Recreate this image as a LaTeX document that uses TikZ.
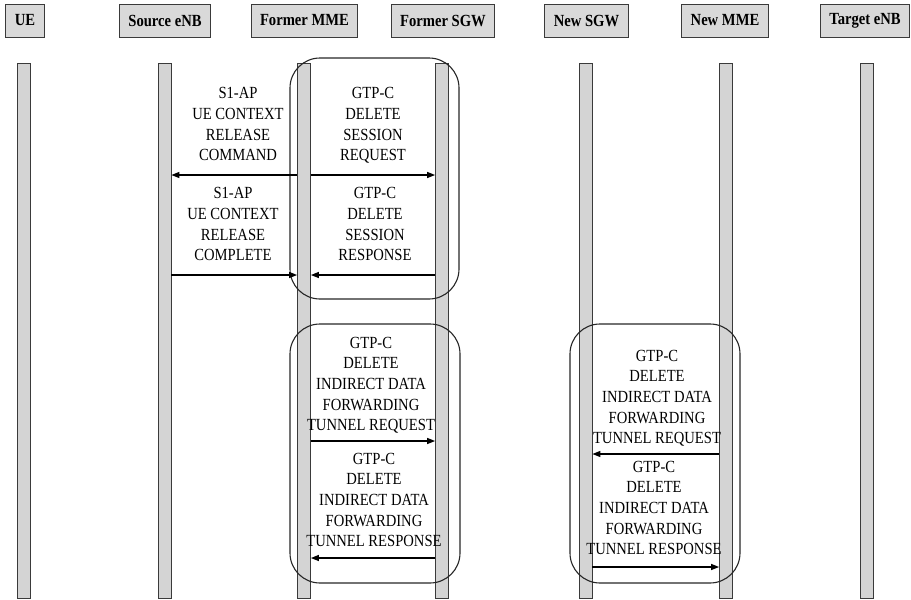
\documentclass[tikz,border=0pt]{standalone}
\usepackage{fontspec}
\setmainfont{Liberation Serif}[FakeStretch=0.86]
\usetikzlibrary{arrows.meta}
\definecolor{barfill}{HTML}{D4D4D4}
\definecolor{hdrfill}{HTML}{D9D9D9}
\definecolor{edge}{HTML}{3A3A3A}
\tikzset{
  hdr/.style={draw=edge, fill=hdrfill, line width=0.9pt, minimum height=33pt,
    inner xsep=9pt, inner ysep=0pt, font=\fontsize{17}{20}\selectfont\bfseries},
  lifeline/.style={draw=edge, fill=barfill, line width=0.8pt, minimum width=13pt,
    minimum height=535pt, inner sep=0pt},
  msg/.style={line width=1.3pt, -{Triangle[length=8pt,width=6pt]}},
  lbl/.style={align=center, inner sep=0pt, anchor=south, text depth=0pt,
    font=\fontsize{17}{20.7}\selectfont},
  group/.style={draw=black!85, line width=1.1pt, rounded corners=30pt}
}
\begin{document}
\begin{tikzpicture}[x=1pt, y=-1pt]
\useasboundingbox (0,0) rectangle (911,600);

% entity headers
\node[hdr] (hUE)   at (25,20.5)    {UE};
\node[hdr] (hSRC)  at (165,20.5)   {Source eNB};
\node[hdr] (hFMME) at (304.5,20.5) {Former MME};
\node[hdr] (hFSGW) at (443,20.5)   {Former SGW};
\node[hdr] (hNSGW) at (586.5,20.5) {New SGW};
\node[hdr] (hNMME) at (725,20.5)   {New MME};
\node[hdr] (hTENB) at (865,20.5)   {Target eNB};

% lifelines
\node[lifeline] (ue)   at (24,330.5)    {};
\node[lifeline] (src)  at (164.5,330.5) {};
\node[lifeline] (fmme) at (304,330.5)   {};
\node[lifeline] (fsgw) at (442,330.5)   {};
\node[lifeline] (nsgw) at (585.5,330.5) {};
\node[lifeline] (nmme) at (726,330.5)   {};
\node[lifeline] (tenb) at (867,330.5)   {};

% procedure groups
\draw[group] (290,58) rectangle (459,299);
\draw[group] (290,324) rectangle (460,583);
\draw[group] (570,324) rectangle (740,583);

% S1-AP release
\draw[msg] (fmme.west |- 0,175) -- (src.east |- 0,175);
\node[lbl] (t1) at (238,161) {S1-AP\\UE CONTEXT\\RELEASE\\COMMAND};
\draw[msg] (src.east |- 0,275) -- (fmme.west |- 0,275);
\node[lbl] (t2) at (233,261) {S1-AP\\UE CONTEXT\\RELEASE\\COMPLETE};

% delete session
\draw[msg] (fmme.east |- 0,175) -- (fsgw.west |- 0,175);
\node[lbl] (t3) at (373,161) {GTP-C\\DELETE\\SESSION\\REQUEST};
\draw[msg] (fsgw.west |- 0,275) -- (fmme.east |- 0,275);
\node[lbl] (t4) at (375,261) {GTP-C\\DELETE\\SESSION\\RESPONSE};

% indirect forwarding tunnel, former nodes
\draw[msg] (fmme.east |- 0,441) -- (fsgw.west |- 0,441);
\node[lbl] (t5) at (371,431) {GTP-C\\DELETE\\INDIRECT DATA\\FORWARDING\\TUNNEL REQUEST};
\draw[msg] (fsgw.west |- 0,558) -- (fmme.east |- 0,558);
\node[lbl] (t6) at (374,547) {GTP-C\\DELETE\\INDIRECT DATA\\FORWARDING\\TUNNEL RESPONSE};

% indirect forwarding tunnel, new nodes
\draw[msg] (nmme.west |- 0,454) -- (nsgw.east |- 0,454);
\node[lbl] (t7) at (657,444) {GTP-C\\DELETE\\INDIRECT DATA\\FORWARDING\\TUNNEL REQUEST};
\draw[msg] (nsgw.east |- 0,567) -- (nmme.west |- 0,567);
\node[lbl] (t8) at (654,555) {GTP-C\\DELETE\\INDIRECT DATA\\FORWARDING\\TUNNEL RESPONSE};
\end{tikzpicture}
\end{document}
